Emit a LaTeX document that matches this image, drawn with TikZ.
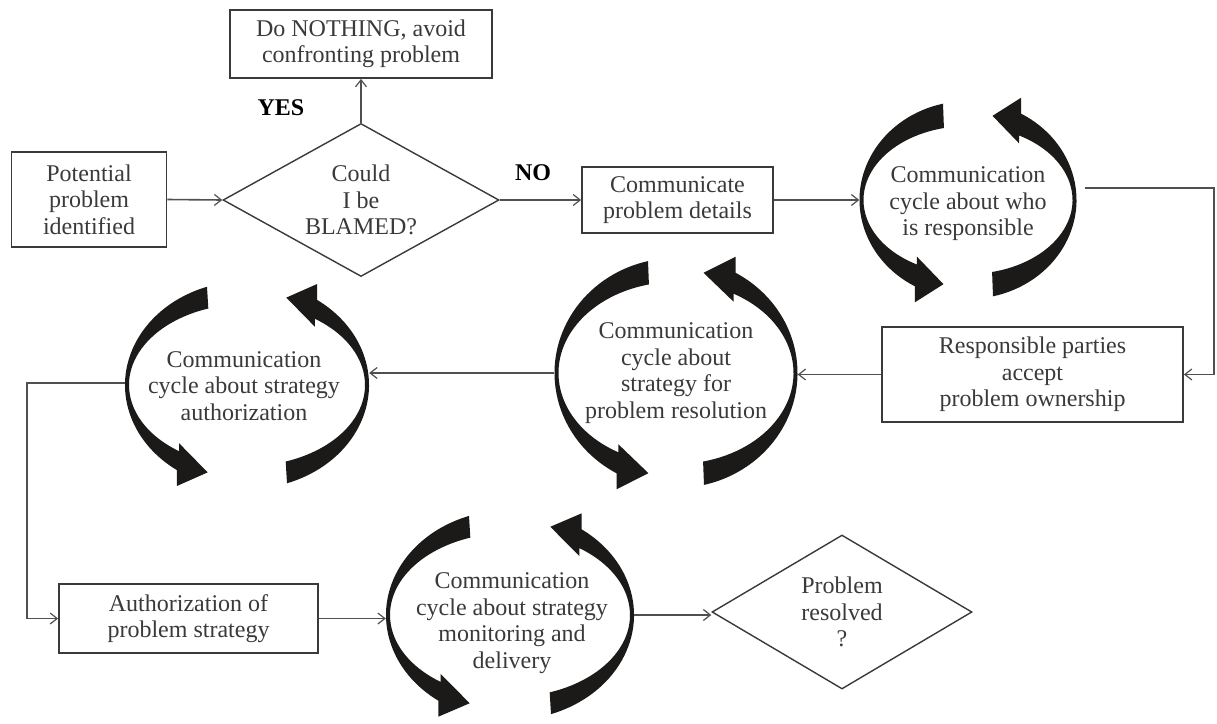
\documentclass[tikz,border=0pt]{standalone}
\usepackage{fontspec}
\setmainfont{Liberation Serif}
\usetikzlibrary{shapes.geometric,arrows.meta}
\definecolor{ink}{HTML}{3A3A3A}
\definecolor{lineink}{HTML}{505050}
\definecolor{arcink}{HTML}{1C1919}
\newcommand{\txtfont}{\fontsize{24}{26.5}\selectfont}
\tikzset{
  box/.style={draw=ink, line width=1.8pt, rectangle, inner sep=0pt, align=center, text=ink, font=\txtfont},
  dia/.style={draw=ink, line width=1.4pt, diamond, aspect=1.8, inner sep=0pt, align=center, text=ink, font=\txtfont},
  lbl/.style={font=\txtfont\bfseries, text=black, inner sep=0pt},
  conn/.style={draw=lineink, line width=1.6pt, -{Straight Barb[length=7pt,width=11pt,line width=1.2pt]}},
  ctext/.style={align=center, text=ink, font=\txtfont, inner sep=0pt},
  cgeom/.style={rectangle, inner sep=0pt, draw=none}
}
% #1 cx, #2 cy, #3 Rx, #4 Ry, #5 thickness, #6 half gap (x offset of flat end)
\newcommand{\drawcyc}[6]{%
  \pgfmathsetmacro\cyS{acos(-#6/#3)}%
  \pgfmathsetmacro\cyT{360-\cyS}%
  \pgfmathsetmacro\cyB{\cyT-16}%
  \pgfmathsetmacro\cyRxi{#3-4}%
  \pgfmathsetmacro\cyRyi{#4-#5}%
  \pgfmathsetmacro\cyXs{#3*cos(\cyS)}%
  \pgfmathsetmacro\cyYs{#4*sin(\cyS)}%
  \pgfmathsetmacro\cyXb{\cyRxi*cos(\cyB)}%
  \pgfmathsetmacro\cyYb{\cyRyi*sin(\cyB)}%
  \pgfmathsetmacro\cyXo{#3*cos(\cyB)}%
  \pgfmathsetmacro\cyYo{#4*sin(\cyB)-16}%
  \pgfmathsetmacro\cyXi{\cyRxi*cos(\cyB)}%
  \pgfmathsetmacro\cyYi{\cyRyi*sin(\cyB)+8}%
  \pgfmathsetmacro\cyXt{(#3-2)*cos(\cyT)}%
  \pgfmathsetmacro\cyYt{(#4-#5/2)*sin(\cyT)}%
  \foreach \cyrot in {0,180}{%
    \fill[arcink, shift={(#1,#2)}, rotate=\cyrot]
      (\cyXs,\cyYs) arc[start angle=\cyS, end angle=\cyB, x radius=#3, y radius=#4]
      -- (\cyXo,\cyYo) -- (\cyXt,\cyYt) -- (\cyXi,\cyYi)
      -- (\cyXb,\cyYb) arc[start angle=\cyB, end angle=\cyS, x radius=\cyRxi, y radius=\cyRyi]
      -- cycle;
  }%
}
\begin{document}
\begin{tikzpicture}[x=1pt,y=1pt]
\useasboundingbox (0,0) rectangle (1217,-723);
\fill[white] (0,0) rectangle (1217,-723);

% cycles
\drawcyc{968}{-200}{108.5}{99}{25}{25}
\drawcyc{676}{-373}{121.5}{115}{24}{28}
\drawcyc{247}{-385}{122}{104}{23}{40}
\drawcyc{510}{-615}{124}{105}{23}{41}

\node[cgeom, minimum width=217pt, minimum height=198pt] (c1) at (968,-200) {};
\node[cgeom, minimum width=243pt, minimum height=230pt] (c2) at (676,-373) {};
\node[cgeom, minimum width=244pt, minimum height=208pt] (c3) at (247,-385) {};
\node[cgeom, minimum width=248pt, minimum height=210pt] (c4) at (510,-615) {};

\node[ctext] (t1) at (968,-204) {Communication\\cycle about who\\is responsible};
\node[ctext] (t2) at (676,-373) {Communication\\cycle about\\strategy for\\problem resolution};
\node[ctext] (t3) at (244,-386) {Communication\\cycle about strategy\\authorization};
\node[ctext] (t4) at (512,-623) {Communication\\cycle about strategy\\monitoring and\\delivery};

% boxes
\node[box, minimum width=262pt, minimum height=68pt] (nothing) at (361,-44) {Do NOTHING, avoid\\confronting problem};
\node[box, minimum width=155pt, minimum height=95pt] (potential) at (89,-199.5) {Potential\\problem\\identified};
\node[dia, minimum width=276pt, minimum height=153pt] (blamed) at (361,-200) {Could\\I be\\BLAMED?};
\node[box, minimum width=191pt, minimum height=66pt] (communicate) at (677.5,-200) {Communicate\\problem details};
\node[box, minimum width=301pt, minimum height=95pt] (responsible) at (1032.5,-374.5) {Responsible parties\\accept\\problem ownership};
\node[box, minimum width=259pt, minimum height=69pt] (authorization) at (188.5,-618.5) {Authorization of\\problem strategy};
\node[dia, minimum width=260pt, minimum height=154pt] (resolved) at (842,-612) {Problem\\resolved\\?};

\node[lbl] (yes) at (281,-108) {YES};
\node[lbl] (no) at (533,-173) {NO};

% connectors
\draw[conn] (potential.east) -- (blamed.west);
\draw[conn] (blamed.north) -- (nothing.south);
\draw[conn] (blamed.east) -- (communicate.west);
\draw[conn] (communicate.east) -- (c1.west);
\draw[conn] ([xshift=8pt,yshift=12pt]c1.east) -| ([xshift=30pt]responsible.east) -- (responsible.east);
\draw[conn] (responsible.west) -- (responsible.west -| c2.east);
\draw[conn] (c2.west) -- (c2.west -| c3.east);
\draw[conn] ([yshift=2pt]c3.west) -| ([xshift=-31pt]authorization.west) -- (authorization.west);
\draw[conn] (authorization.east) -- (authorization.east -| c4.west);
\draw[conn] (c4.east) -- (c4.east -| resolved.west);
\end{tikzpicture}
\end{document}
